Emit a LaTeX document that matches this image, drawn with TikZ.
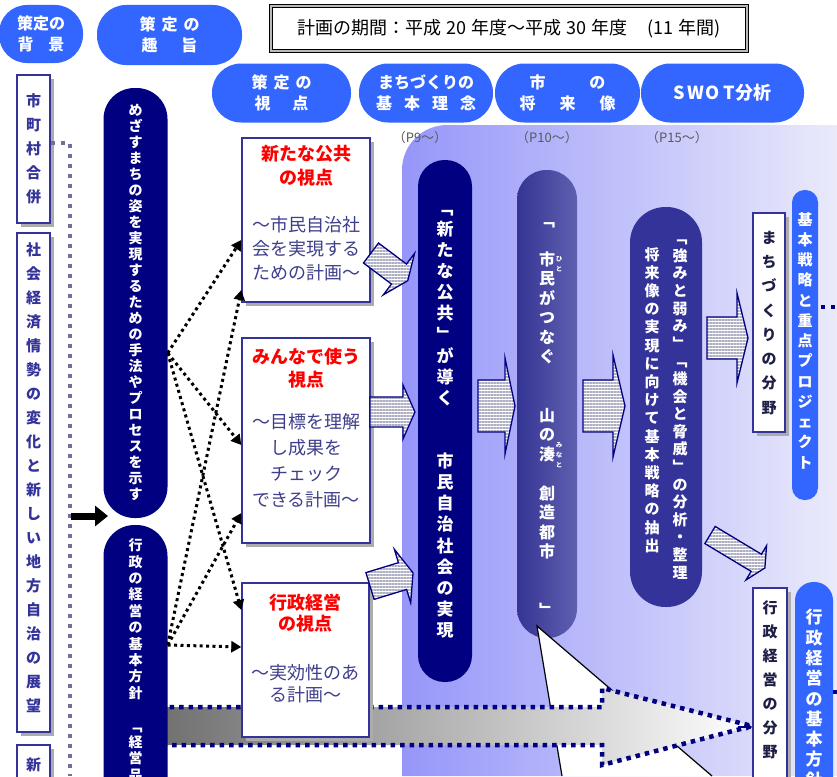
\documentclass[tikz,border=0pt]{standalone}
\usepackage{fontspec}
\setmainfont{Noto Sans CJK JP}
\usetikzlibrary{arrows.meta,patterns.meta,shadows}
\definecolor{pblue}{RGB}{51,102,255}
\definecolor{navyc}{RGB}{0,0,128}
\definecolor{bnavy}{RGB}{51,51,153}
\definecolor{cfl}{RGB}{52,52,148}
\definecolor{cfr}{RGB}{96,96,176}
\definecolor{bgL}{RGB}{150,150,250}
\definecolor{bgR}{RGB}{234,234,251}
\definecolor{btext}{RGB}{62,62,140}
\definecolor{dotg}{RGB}{112,112,160}
\definecolor{bandL}{RGB}{112,112,112}
\definecolor{redtx}{RGB}{255,0,0}
\definecolor{stripe}{RGB}{175,175,195}
\definecolor{darktx}{RGB}{30,30,70}
\makeatletter
\newcommand\vtxt[2]{\vbox{\offinterlineskip\@tfor\vt@c:=#2\do{\vbox to #1{\vss\hbox to 1em{\hss\vrule height .88em depth .12em width 0pt\vt@c\hss}\vss}}}}
\makeatother
\newcommand\blkarrow[7]{%
  \begin{scope}[shift={(#1,#2)},rotate=#3]
    \draw[blkarr] (0,-#5) -- ({#4-#7},-#5) -- ({#4-#7},-#6) -- (#4,0) -- ({#4-#7},#6) -- ({#4-#7},#5) -- (0,#5) -- cycle;
  \end{scope}}
\begin{document}
\begin{tikzpicture}[x=1pt,y=-1pt,
  tpill/.style={fill=pblue,text=white,font=\bfseries\fontsize{16}{21}\selectfont,align=center,inner sep=0pt,minimum height=59pt},
  npill/.style={fill=navyc,inner sep=0pt},
  wtxt/.style={text=white,inner sep=0pt},
  lbox/.style={draw=bnavy,line width=1.4pt,fill=white,inner sep=0pt,drop shadow={shadow xshift=3.5pt,shadow yshift=-3.5pt,fill=gray!65,opacity=1}},
  ltxt/.style={text=bnavy,font=\bfseries\fontsize{15}{15}\selectfont,inner sep=0pt},
  rtitle/.style={text=redtx,font=\bfseries\fontsize{18}{24}\selectfont,align=center,inner sep=0pt},
  bodyt/.style={text=btext,font=\fontsize{18}{24}\selectfont,align=center,inner sep=0pt},
  dotarr/.style={black,line width=3pt,dash pattern=on 3pt off 3.4pt,-{Triangle[length=10pt,width=11pt]}},
  blkarr/.style={draw=navyc,line width=1.3pt,preaction={fill=white},pattern={Lines[angle=0,distance=3pt,line width=1.4pt]},pattern color=stripe},
  plabel/.style={text=black!65,font=\fontsize{13}{13}\selectfont,inner sep=0pt}
]
\useasboundingbox (0,0) rectangle (837,776);
\clip (0,0) rectangle (837,776);
\fill[white] (0,0) rectangle (837,776);

% background gradient region
\shade[left color=bgL,right color=bgR] (402,776) -- (402,170) arc[start angle=180,end angle=270,radius=45] -- (837,125) -- (837,776) -- cycle;

% top row
\node[tpill,rounded corners=28pt,minimum width=84pt,minimum height=58pt] (haikei) at (41,34) {策定の\\背\hspace{15pt}景};
\node[tpill,rounded corners=29pt,minimum width=145pt,minimum height=60pt] (shushi) at (169.5,35) {策\hspace{6pt}定\hspace{6pt}の\\趣\hspace{24pt}旨};
\node[draw=black,double=gray!55,double distance=2.2pt,line width=0.9pt,minimum width=476pt,minimum height=45pt,inner sep=0pt,font=\fontsize{18}{18}\selectfont] (kikan) at (509,28.5) {計画の期間：平成\hspace{5pt}20\hspace{5pt}年度～平成\hspace{5pt}30\hspace{5pt}年度\hspace{20pt}(11\hspace{5pt}年間)};

% second row
\node[tpill,rounded corners=29pt,minimum width=139pt] (shiten) at (281.5,93) {策\hspace{6pt}定\hspace{6pt}の\\視\hspace{22pt}点};
\node[tpill,rounded corners=29pt,minimum width=134pt] (rinen) at (426,93) {まちづくりの\\基\hspace{12pt}本\hspace{12pt}理\hspace{12pt}念};
\node[tpill,rounded corners=29pt,minimum width=145pt] (shorai) at (567.5,93) {市\hspace{44pt}の\\将\hspace{24pt}来\hspace{24pt}像};
\node[tpill,rounded corners=29pt,minimum width=163pt,font=\bfseries\fontsize{18}{20}\selectfont] (swot) at (722.5,93) {S\hspace{2pt}W\hspace{2pt}O\hspace{4pt}T分析};

\node[plabel] (pg9) at (420,138) {（P9～）};
\node[plabel] (pg10) at (547,138) {（P10～）};
\node[plabel] (pg15) at (677,138) {（P15～）};

% left column
\node[lbox,minimum width=33pt,minimum height=148pt] (gappei) at (33.5,149) {};
\node[ltxt] (gappeit) at (gappei) {\vtxt{24pt}{市町村合併}};
\node[lbox,minimum width=33pt,minimum height=499pt] (shakai) at (33.5,482.5) {};
\node[ltxt] (shakait) at (33.5,478) {\vtxt{24pt}{社会経済情勢の変化と新しい地方自治の展望}};
\node[lbox,minimum width=33pt,minimum height=60pt] (shin) at (33.5,775) {};
\node[ltxt] (shint) at (33.5,765) {新};

\coordinate (dl) at (70,776);
\draw[dotg,line width=4pt,dash pattern=on 4pt off 6pt] (gappei.east |- 0,143) -- (70,143) -- (dl);
\coordinate (cin) at (108,516);
\draw[line width=7pt,-{Triangle[length=13pt,width=20pt]}] (71,516) -- (cin);

% right columns
\node[npill,rounded corners=26.5pt,minimum width=54pt,minimum height=522pt] (c3) at (445,421) {};
\node[wtxt,font=\bfseries\fontsize{17}{17}\selectfont] (c3t) at (445,419) {\vtxt{21.1pt}{﹁新たな公共﹂が導く　　市民自治社会の実現}};

\node[inner sep=0pt,rounded corners=29.5pt,minimum width=60pt,minimum height=468pt,left color=cfl,right color=cfr] (c4) at (547,404) {};
\node[wtxt,font=\bfseries\fontsize{16}{16}\selectfont] (c4t) at (547,415) {\vtxt{19.5pt}{﹁　市民がつなぐ　　山の湊　創造都市　　﹂}};
\node[wtxt,font=\bfseries\fontsize{6.5}{6.5}\selectfont] (r1) at (559,264) {\vtxt{10pt}{ひと}};
\node[wtxt,font=\bfseries\fontsize{6.5}{6.5}\selectfont] (r2) at (559,455) {\vtxt{10pt}{みなと}};

\node[inner sep=0pt,fill=bnavy,rounded corners=35.5pt,minimum width=72pt,minimum height=400pt] (sw) at (666,407) {};
\node[wtxt,font=\bfseries\fontsize{15}{15}\selectfont,anchor=north] (swr) at (680,229) {\vtxt{17.6pt}{﹁強みと弱み﹂﹁機会と脅威﹂の分析・整理}};
\node[wtxt,font=\bfseries\fontsize{15}{15}\selectfont,anchor=north] (swl) at (652,245) {\vtxt{18.2pt}{将来像の実現に向けて基本戦略の抽出}};

\node[lbox,minimum width=32pt,minimum height=219pt] (mb) at (769,322.5) {};
\node[ltxt,text=darktx] (mbt) at (mb) {\vtxt{24.3pt}{まちづくりの分野}};

\node[inner sep=0pt,fill=pblue,rounded corners=12.5pt,minimum width=26pt,minimum height=310pt] (kp) at (805,345) {};
\node[wtxt,font=\bfseries\fontsize{15}{15}\selectfont] (kpt) at (805,341) {\vtxt{20.25pt}{基本戦略と重点プロジェクト}};
\coordinate (kpend) at (840,307);
\draw[navyc,line width=4pt,dash pattern=on 4pt off 6pt,dash phase=7pt] (kp.east |- 0,307) -- (kpend);

% white beam from the vision column
\fill[white] (537,626) -- (562,776) -- (712,776) -- cycle;
\draw[black,line width=1.2pt] (562,776) -- (537,626) -- (712,776);

% big dotted band arrow
\shade[left color=bandL,right color=white] (160,707) -- (602,707) -- (602,688) -- (752,726) -- (602,765) -- (602,745) -- (160,745) -- cycle;
\draw[navyc,line width=4.5pt,dash pattern=on 4.5pt off 5pt] (160,707) -- (602,707) -- (602,688) -- (752,726) -- (602,765) -- (602,745) -- (160,745);

% administrative boxes on the right
\node[lbox,minimum width=34pt,minimum height=212pt] (gb) at (770,694) {};
\node[ltxt,text=darktx,anchor=north] (gbt) at (770,596) {\vtxt{24pt}{行政経営の分野}};
\draw[navyc,line width=1.5pt,-{Triangle[length=6pt,width=7pt]}] (738,727) -- (gb.west |- 0,727);
\node[inner sep=0pt,fill=pblue,rounded corners=18.5pt,minimum width=38pt,minimum height=258pt] (gp) at (814,711) {};
\node[wtxt,font=\bfseries\fontsize{17}{17}\selectfont,anchor=north] (gpt) at (814,607) {\vtxt{20.3pt}{行政経営の基本方針}};
\coordinate (gpend) at (840,692);
\draw[navyc,line width=4pt] (gp.east |- 0,692) -- (gpend);

% navy pills (purpose)
\node[npill,rounded corners=31pt,minimum width=64pt,minimum height=430pt] (p1) at (135.5,303) {};
\node[wtxt,font=\bfseries\fontsize{14}{14}\selectfont] (p1t) at (135.5,302) {\vtxt{16pt}{めざすまちの姿を実現するための手法やプロセスを示す}};
\node[npill,rounded corners=31pt,minimum width=64pt,minimum height=350pt] (p2) at (135.5,700) {};
\node[wtxt,font=\bfseries\fontsize{14}{14}\selectfont,anchor=north] (p2t) at (135.5,537) {\vtxt{16.4pt}{行政の経営の基本方針　﹁経営品質﹂}};

% viewpoint boxes
\node[lbox,minimum width=128pt,minimum height=164pt] (v1) at (306,220) {};
\node[rtitle] (v1a) at (306,165.5) {新たな公共\\の視点};
\node[bodyt] (v1b) at (306,249) {～市民自治社\\会を実現する\\ための計画～};
\node[lbox,minimum width=128pt,minimum height=205pt] (v2) at (306,440.5) {};
\node[rtitle,font=\bfseries\fontsize{18}{23}\selectfont] (v2a) at (306,368.5) {みんなで使う\\視点};
\node[bodyt,font=\fontsize{18}{26}\selectfont] (v2b) at (306,461) {～目標を理解\\し成果を\\チェック\\できる計画～};
\node[lbox,minimum width=127pt,minimum height=154pt] (v3) at (305.5,660) {};
\node[rtitle,font=\bfseries\fontsize{18}{21}\selectfont] (v3a) at (305.5,613) {行政経営\\の視点};
\node[bodyt,font=\fontsize{18}{22}\selectfont] (v3b) at (305.5,684) {～実効性のあ\\る計画～};

% striped block arrows
\blkarrow{371}{253}{-37}{46}{12.5}{26}{11}
\blkarrow{370}{412}{0}{45}{15}{27}{12}
\blkarrow{370}{586}{17}{45}{14}{28}{11}
\blkarrow{478}{406}{0}{37}{26}{48}{10}
\blkarrow{583}{406}{0}{42}{26}{51}{12}
\blkarrow{707}{338}{0}{41}{21}{45}{11}
\blkarrow{710}{535}{-31}{64}{10}{20}{10}

% dotted arrows from the purpose pills to the viewpoints
\coordinate (o1) at (p1.east |- 0,353);
\coordinate (o2) at (p2.east |- 0,645);
\draw[dotarr] (o1) -- (v1.west |- 0,240);
\draw[dotarr] (o1) -- (v2.west |- 0,445);
\draw[dotarr] (o1) -- (v3.west |- 0,610);
\draw[dotarr] (o2) -- (v1.west |- 0,290);
\draw[dotarr] (o2) -- (v2.west |- 0,513);
\draw[dotarr] (o2) -- (v3.west |- 0,647);
\end{tikzpicture}
\end{document}
